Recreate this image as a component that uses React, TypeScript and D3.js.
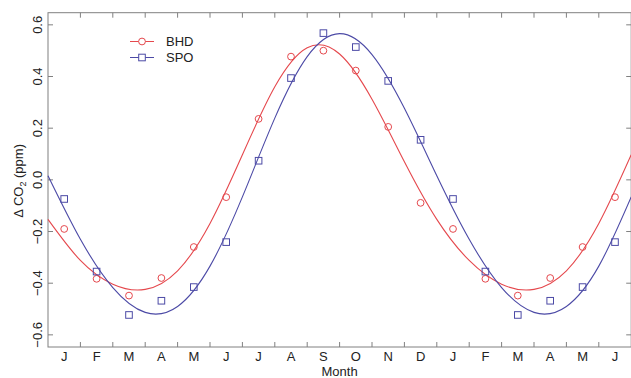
import { useEffect, useRef } from "react";
import * as d3 from "d3";

// month labels (one at each month centre), 18 months shown
const monthLabels = [ "J", "F", "M", "A", "M", "J", "J", "A", "S", "O", "N", "D", "J", "F", "M", "A", "M", "J" ];

// monthly mean anomalies, ppm (points at month centres)
const bhdPoints = [ -0.19, -0.383, -0.448, -0.38, -0.26, -0.067, 0.236, 0.477, 0.5, 0.423, 0.205, -0.089, -0.19, -0.383, -0.448, -0.38, -0.26, -0.067 ];
const spoPoints = [ -0.074, -0.355, -0.523, -0.468, -0.415, -0.241, 0.074, 0.394, 0.568, 0.514, 0.383, 0.155, -0.074, -0.355, -0.523, -0.468, -0.415, -0.241 ];

// fitted seasonal curves, read at each month boundary (0..18)
const bhdFit = [ -0.153, -0.312, -0.404, -0.424, -0.352, -0.169, 0.097, 0.36, 0.511, 0.487, 0.312, 0.07, -0.153, -0.312, -0.404, -0.424, -0.352, -0.169, 0.097 ];
const spoFit = [ 0.016, -0.23, -0.417, -0.513, -0.49, -0.334, -0.066, 0.239, 0.477, 0.566, 0.485, 0.277, 0.016, -0.23, -0.417, -0.513, -0.49, -0.334, -0.066 ];

const yTicks = [ -0.6, -0.4, -0.2, 0.0, 0.2, 0.4, 0.6 ];

const RED = "#e5484d";
const BLUE = "#4c4aa6";
const AXIS = "#808080";
const FONT = "'Liberation Sans', Arial, Helvetica, sans-serif";

export default function App ()
{
    const svgRef = useRef<SVGSVGElement>( null );

    useEffect( () =>
    {
        if ( !svgRef.current ) return;
        const W = 631, H = 378;
        const svg = d3.select( svgRef.current );
        svg.selectAll( "*" ).remove();
        svg.attr( "width", W ).attr( "height", H );

        const m = { left: 48, right: 631.2, top: 12.7, bottom: 347 };
        const x = d3.scaleLinear().domain( [ 0, 18 ] ).range( [ m.left, m.right ] );
        const y = d3.scaleLinear().domain( [ -0.647, 0.647 ] ).range( [ m.bottom, m.top ] );

        svg.append( "rect" ).attr( "width", W ).attr( "height", H ).attr( "fill", "#fff" );

        // Box
        svg.append( "rect" )
            .attr( "x", m.left ).attr( "y", m.top )
            .attr( "width", m.right - m.left ).attr( "height", m.bottom - m.top )
            .attr( "fill", "none" ).attr( "stroke", AXIS ).attr( "stroke-width", 1 );

        // Inward ticks on all four sides
        const bounds = d3.range( 1, 18 );
        const ax = svg.append( "g" ).attr( "stroke", AXIS ).attr( "stroke-width", 1 );
        ax.selectAll( ".tb" ).data( bounds ).join( "line" )
            .attr( "x1", ( d ) => x( d ) ).attr( "x2", ( d ) => x( d ) )
            .attr( "y1", m.bottom ).attr( "y2", m.bottom - 5 );
        ax.selectAll( ".tt" ).data( bounds ).join( "line" )
            .attr( "x1", ( d ) => x( d ) ).attr( "x2", ( d ) => x( d ) )
            .attr( "y1", m.top ).attr( "y2", m.top + 5 );
        ax.selectAll( ".tl" ).data( yTicks ).join( "line" )
            .attr( "x1", m.left ).attr( "x2", m.left + 5 )
            .attr( "y1", ( d ) => y( d ) ).attr( "y2", ( d ) => y( d ) );
        ax.selectAll( ".tr" ).data( yTicks ).join( "line" )
            .attr( "x1", m.right ).attr( "x2", m.right - 5 )
            .attr( "y1", ( d ) => y( d ) ).attr( "y2", ( d ) => y( d ) );

        // Month labels
        const band = d3.scaleBand<number>().domain( d3.range( monthLabels.length ) ).range( [ m.left, m.right ] );
        svg.append( "g" ).attr( "transform", `translate(0,${ m.bottom })` )
            .call( d3.axisBottom( band ).tickSize( 0 ).tickPadding( 5 ).tickFormat( ( i ) => monthLabels[ i as number ] ) )
            .call( ( g ) => g.select( ".domain" ).remove() )
            .selectAll( "text" ).attr( "fill", "#222" ).style( "font-size", "13px" ).style( "font-family", FONT );

        // Y labels (rotated, R style)
        svg.append( "g" ).selectAll( "text" ).data( yTicks ).join( "text" )
            .attr( "transform", ( d ) => `translate(41.5,${ y( d ) }) rotate(-90)` )
            .attr( "text-anchor", "middle" ).attr( "fill", "#222" )
            .style( "font-size", "13px" ).style( "font-family", FONT )
            .text( ( d ) => d3.format( ".1f" )( d ) );

        // Axis titles
        svg.append( "text" ).attr( "x", ( m.left + m.right ) / 2 ).attr( "y", 376 )
            .attr( "text-anchor", "middle" ).attr( "fill", "#222" )
            .style( "font-size", "13px" ).style( "font-family", FONT ).text( "Month" );
        const yt = svg.append( "text" ).attr( "transform", `translate(23,${ ( m.top + m.bottom ) / 2 + 1 }) rotate(-90)` )
            .attr( "text-anchor", "middle" ).attr( "fill", "#222" )
            .style( "font-size", "13px" ).style( "font-family", FONT );
        yt.append( "tspan" ).text( "Δ CO" );
        yt.append( "tspan" ).attr( "dy", 3 ).style( "font-size", "9px" ).text( "2" );
        yt.append( "tspan" ).attr( "dy", -3 ).text( " (ppm)" );

        // Fitted curves
        const plot = svg.append( "g" );
        const line = d3.line<number>().x( ( _d, i ) => x( i ) ).y( ( d ) => y( d ) ).curve( d3.curveNatural );
        plot.append( "path" ).datum( bhdFit ).attr( "d", line ).attr( "fill", "none" ).attr( "stroke", RED ).attr( "stroke-width", 1.1 );
        plot.append( "path" ).datum( spoFit ).attr( "d", line ).attr( "fill", "none" ).attr( "stroke", BLUE ).attr( "stroke-width", 1.1 );

        // Points
        plot.selectAll( ".bhd" ).data( bhdPoints ).join( "circle" )
            .attr( "cx", ( _d, i ) => x( i + 0.5 ) ).attr( "cy", ( d ) => y( d ) ).attr( "r", 3.4 )
            .attr( "fill", "none" ).attr( "stroke", RED ).attr( "stroke-width", 1 );
        const sq = 6.6;
        plot.selectAll( ".spo" ).data( spoPoints ).join( "rect" )
            .attr( "x", ( _d, i ) => x( i + 0.5 ) - sq / 2 ).attr( "y", ( d ) => y( d ) - sq / 2 )
            .attr( "width", sq ).attr( "height", sq )
            .attr( "fill", "none" ).attr( "stroke", BLUE ).attr( "stroke-width", 1 );

        // Legend
        const leg = svg.append( "g" ).attr( "transform", "translate(130,41.5)" );
        leg.append( "line" ).attr( "x1", 0 ).attr( "x2", 24 ).attr( "y1", 0 ).attr( "y2", 0 ).attr( "stroke", RED );
        leg.append( "circle" ).attr( "cx", 12 ).attr( "cy", 0 ).attr( "r", 3.4 ).attr( "fill", "#fff" ).attr( "stroke", RED );
        leg.append( "text" ).attr( "x", 36 ).attr( "y", 4.6 ).attr( "fill", "#222" )
            .style( "font-size", "13px" ).style( "font-family", FONT ).text( "BHD" );
        leg.append( "line" ).attr( "x1", 0 ).attr( "x2", 24 ).attr( "y1", 16 ).attr( "y2", 16 ).attr( "stroke", BLUE );
        leg.append( "rect" ).attr( "x", 12 - sq / 2 ).attr( "y", 16 - sq / 2 ).attr( "width", sq ).attr( "height", sq )
            .attr( "fill", "#fff" ).attr( "stroke", BLUE );
        leg.append( "text" ).attr( "x", 36 ).attr( "y", 20.6 ).attr( "fill", "#222" )
            .style( "font-size", "13px" ).style( "font-family", FONT ).text( "SPO" );
    }, [] );

    return (
        <svg ref={ svgRef } style={ { position: "absolute", left: 0, top: 0, display: "block" } } />
    );
}
